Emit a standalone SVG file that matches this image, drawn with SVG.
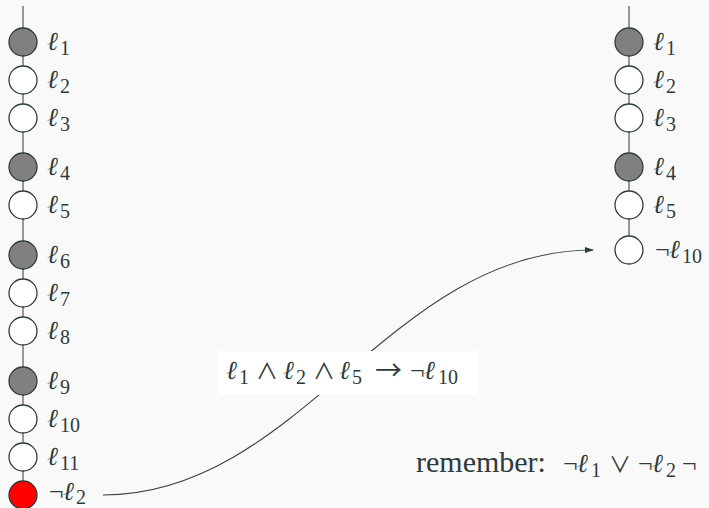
<svg xmlns="http://www.w3.org/2000/svg" width="709" height="508" viewBox="0 0 709 508">
<style>
.bg{fill:#f9f9f9}
.wire{stroke:#555555;stroke-width:1.2;fill:none}
.n circle{stroke:#2f3b3b;stroke-width:1.3}
.f{fill:#808080}
.e{fill:#ffffff}
.r{fill:#ff0000}
text{font-family:"Liberation Serif","DejaVu Serif",serif;fill:#2f3b3b;font-size:26px}
.l{font-family:"DejaVu Serif",serif;font-style:italic;font-size:26px}
.s{font-size:20px}
.op{font-family:"Noto Sans CJK JP","DejaVu Serif",sans-serif;font-size:22px}
.ar{font-family:"Noto Sans CJK JP","DejaVu Serif",sans-serif;font-size:27px}
.rm{font-size:30px}
.edge{stroke:#3a4545;stroke-width:1.1;fill:none}
</style>
<defs>
<marker id="ah" viewBox="0 0 10 10" refX="9" refY="5" markerWidth="9" markerHeight="9" markerUnits="userSpaceOnUse" orient="auto">
<path d="M0,1.5 L10,5 L0,8.5 z" fill="#2f3b3b"/>
</marker>
</defs>
<rect class="bg" x="0" y="0" width="709" height="508"/>
<line class="wire" x1="23" y1="6" x2="23" y2="495"/>
<line class="wire" x1="629" y1="6" x2="629" y2="250"/>

<g id="L1" class="n"><circle class="f" cx="23" cy="42" r="14"/><text><tspan class="l" x="47" y="50">ℓ</tspan><tspan class="s" x="60" y="55">1</tspan></text></g>
<g id="L2" class="n"><circle class="e" cx="23" cy="80" r="14"/><text><tspan class="l" x="47" y="88">ℓ</tspan><tspan class="s" x="60" y="93">2</tspan></text></g>
<g id="L3" class="n"><circle class="e" cx="23" cy="118" r="14"/><text><tspan class="l" x="47" y="126">ℓ</tspan><tspan class="s" x="60" y="131">3</tspan></text></g>
<g id="L4" class="n"><circle class="f" cx="23" cy="167" r="14"/><text><tspan class="l" x="47" y="175">ℓ</tspan><tspan class="s" x="60" y="180">4</tspan></text></g>
<g id="L5" class="n"><circle class="e" cx="23" cy="205" r="14"/><text><tspan class="l" x="47" y="213">ℓ</tspan><tspan class="s" x="60" y="218">5</tspan></text></g>
<g id="L6" class="n"><circle class="f" cx="23" cy="255" r="14"/><text><tspan class="l" x="47" y="263">ℓ</tspan><tspan class="s" x="60" y="268">6</tspan></text></g>
<g id="L7" class="n"><circle class="e" cx="23" cy="293" r="14"/><text><tspan class="l" x="47" y="301">ℓ</tspan><tspan class="s" x="60" y="306">7</tspan></text></g>
<g id="L8" class="n"><circle class="e" cx="23" cy="331" r="14"/><text><tspan class="l" x="47" y="339">ℓ</tspan><tspan class="s" x="60" y="344">8</tspan></text></g>
<g id="L9" class="n"><circle class="f" cx="23" cy="381" r="14"/><text><tspan class="l" x="47" y="389">ℓ</tspan><tspan class="s" x="60" y="394">9</tspan></text></g>
<g id="L10" class="n"><circle class="e" cx="23" cy="419" r="14"/><text><tspan class="l" x="47" y="427">ℓ</tspan><tspan class="s" x="60" y="432">10</tspan></text></g>
<g id="L11" class="n"><circle class="e" cx="23" cy="457" r="14"/><text><tspan class="l" x="47" y="465">ℓ</tspan><tspan class="s" x="60" y="470">11</tspan></text></g>
<g id="NL2" class="n"><circle class="r" cx="23" cy="495" r="14"/><text><tspan x="49" y="500">¬</tspan><tspan class="l" x="63" y="500">ℓ</tspan><tspan class="s" x="76" y="504">2</tspan></text></g>

<g id="R1" class="n"><circle class="f" cx="629" cy="42" r="14"/><text><tspan class="l" x="653" y="50">ℓ</tspan><tspan class="s" x="666" y="55">1</tspan></text></g>
<g id="R2" class="n"><circle class="e" cx="629" cy="80" r="14"/><text><tspan class="l" x="653" y="88">ℓ</tspan><tspan class="s" x="666" y="93">2</tspan></text></g>
<g id="R3" class="n"><circle class="e" cx="629" cy="118" r="14"/><text><tspan class="l" x="653" y="126">ℓ</tspan><tspan class="s" x="666" y="131">3</tspan></text></g>
<g id="R4" class="n"><circle class="f" cx="629" cy="167" r="14"/><text><tspan class="l" x="653" y="175">ℓ</tspan><tspan class="s" x="666" y="180">4</tspan></text></g>
<g id="R5" class="n"><circle class="e" cx="629" cy="205" r="14"/><text><tspan class="l" x="653" y="213">ℓ</tspan><tspan class="s" x="666" y="218">5</tspan></text></g>
<g id="RN10" class="n"><circle class="e" cx="629" cy="250" r="14"/><text><tspan x="655" y="258">¬</tspan><tspan class="l" x="669" y="258">ℓ</tspan><tspan class="s" x="682" y="263">10</tspan></text></g>

<g id="connectors">
<path class="edge" d="M103,495 C300,495 390,250 593,250" marker-end="url(#ah)"/>
<g id="edge-label">
<rect x="218" y="351" width="260" height="44" fill="#ffffff"/>
<text><tspan class="l" x="226" y="379">ℓ</tspan><tspan class="s" x="239" y="384">1</tspan><tspan class="op" x="256" y="379">∧</tspan><tspan class="l" x="283" y="379">ℓ</tspan><tspan class="s" x="296" y="384">2</tspan><tspan class="op" x="313" y="379">∧</tspan><tspan class="l" x="339" y="379">ℓ</tspan><tspan class="s" x="352" y="384">5</tspan><tspan class="ar" x="375" y="380">→</tspan><tspan x="410" y="379">¬</tspan><tspan class="l" x="424" y="379">ℓ</tspan><tspan class="s" x="438" y="384">10</tspan></text>
</g>
</g>
<text id="remember"><tspan class="rm" x="416" y="472">remember:</tspan><tspan x="563" y="472">¬</tspan><tspan class="l" x="577" y="472">ℓ</tspan><tspan class="s" x="591" y="477">1</tspan><tspan class="op" x="609" y="472">∨</tspan><tspan x="638" y="472">¬</tspan><tspan class="l" x="652" y="472">ℓ</tspan><tspan class="s" x="666" y="477">2</tspan><tspan x="682" y="472">¬</tspan></text>
</svg>
